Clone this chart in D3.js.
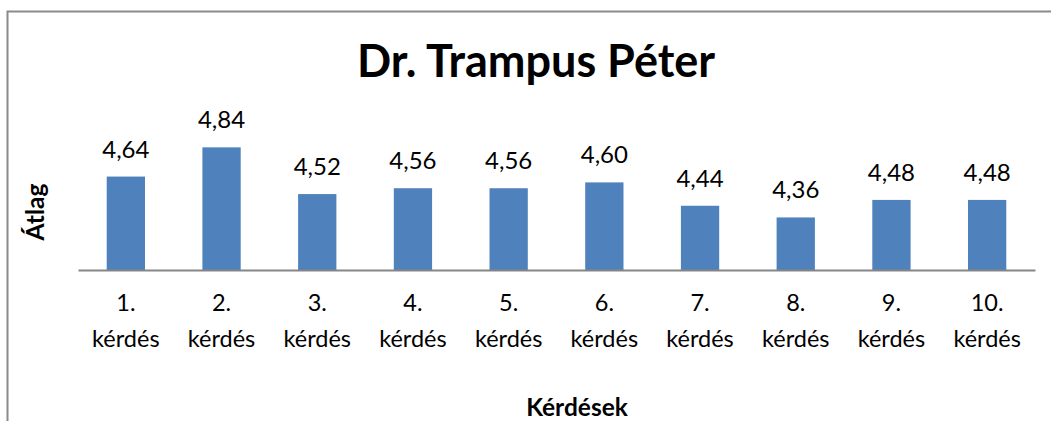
<!DOCTYPE html>
<html>
<head>
<meta charset="utf-8">
<script src="https://cdn.jsdelivr.net/npm/d3@7"></script>
<style>
  body { margin: 0; background: #fff; }
  text { font-family: Lato, "Open Sans", sans-serif; fill: #000; }
</style>
</head>
<body>
<div id="chart"></div>
<script>
// data
var categories = ["1.", "2.", "3.", "4.", "5.", "6.", "7.", "8.", "9.", "10."];
var averages = [4.64, 4.84, 4.52, 4.56, 4.56, 4.60, 4.44, 4.36, 4.48, 4.48];
var valueLabels = ["4,64", "4,84", "4,52", "4,56", "4,56", "4,60", "4,44", "4,36", "4,48", "4,48"];
var catSuffix = "kérdés";
var chartTitle = "Dr. Trampus Péter";
var xTitle = "Kérdések";
var yTitle = "Átlag";

const canvWidth = 1051, canvHeight = 421;
const plot = { left: 78, right: 1035, top: 124, bottom: 270 };

const svg = d3.select("#chart").append("svg")
    .attr("width", canvWidth)
    .attr("height", canvHeight);

// outer chart frame (runs past the right and bottom edge)
svg.append("rect")
    .attr("x", 7.5).attr("y", 11.5)
    .attr("width", 1200).attr("height", 600)
    .attr("fill", "none")
    .attr("stroke", "#8a8a8a")
    .attr("stroke-width", 2);

const xScale = d3.scaleBand()
    .domain(categories)
    .range([plot.left, plot.right])
    .paddingInner(0.6)
    .paddingOuter(0.3);

const yScale = d3.scaleLinear()
    .domain([4, 5])
    .range([plot.bottom, plot.top]);

const rows = categories.map((c, i) => ({ cat: c, value: averages[i], label: valueLabels[i] }));

const g = svg.append("g").attr("id", "chart-area");

g.selectAll("rect.bar")
    .data(rows)
    .enter()
    .append("rect")
    .attr("class", "bar")
    .attr("x", d => xScale(d.cat))
    .attr("y", d => yScale(d.value))
    .attr("width", xScale.bandwidth())
    .attr("height", d => yScale(4) - yScale(d.value))
    .attr("fill", "#4f81bd");

// x axis line, no ticks
const xAxis = d3.axisBottom(xScale).tickSize(0).tickFormat("");
g.append("g")
    .attr("transform", `translate(0,${plot.bottom})`)
    .call(xAxis)
    .call(a => a.select(".domain").attr("stroke", "#868686").attr("stroke-width", 2));

// value labels
g.selectAll("text.value")
    .data(rows)
    .enter()
    .append("text")
    .attr("class", "value")
    .attr("x", d => xScale(d.cat) + xScale.bandwidth() / 2)
    .attr("y", d => yScale(d.value) - 19)
    .attr("text-anchor", "middle")
    .style("font-size", "24px")
    .text(d => d.label);

// category labels on two lines
const cats = g.selectAll("text.cat")
    .data(rows)
    .enter()
    .append("text")
    .attr("class", "cat")
    .attr("text-anchor", "middle")
    .style("font-size", "23.5px");
cats.append("tspan")
    .attr("x", d => xScale(d.cat) + xScale.bandwidth() / 2)
    .attr("y", 311)
    .text(d => d.cat);
cats.append("tspan")
    .attr("x", d => xScale(d.cat) + xScale.bandwidth() / 2)
    .attr("y", 347)
    .text(catSuffix);

svg.append("text")
    .attr("x", 536).attr("y", 77)
    .attr("text-anchor", "middle")
    .style("font-size", "45px").style("font-weight", "bold")
    .text(chartTitle);

svg.append("text")
    .attr("x", 577).attr("y", 416)
    .attr("text-anchor", "middle")
    .style("font-size", "24.5px").style("font-weight", "bold")
    .text(xTitle);

svg.append("text")
    .attr("transform", "translate(44,212) rotate(-90)")
    .attr("text-anchor", "middle")
    .style("font-size", "24.5px").style("font-weight", "bold")
    .text(yTitle);
</script>
</body>
</html>
